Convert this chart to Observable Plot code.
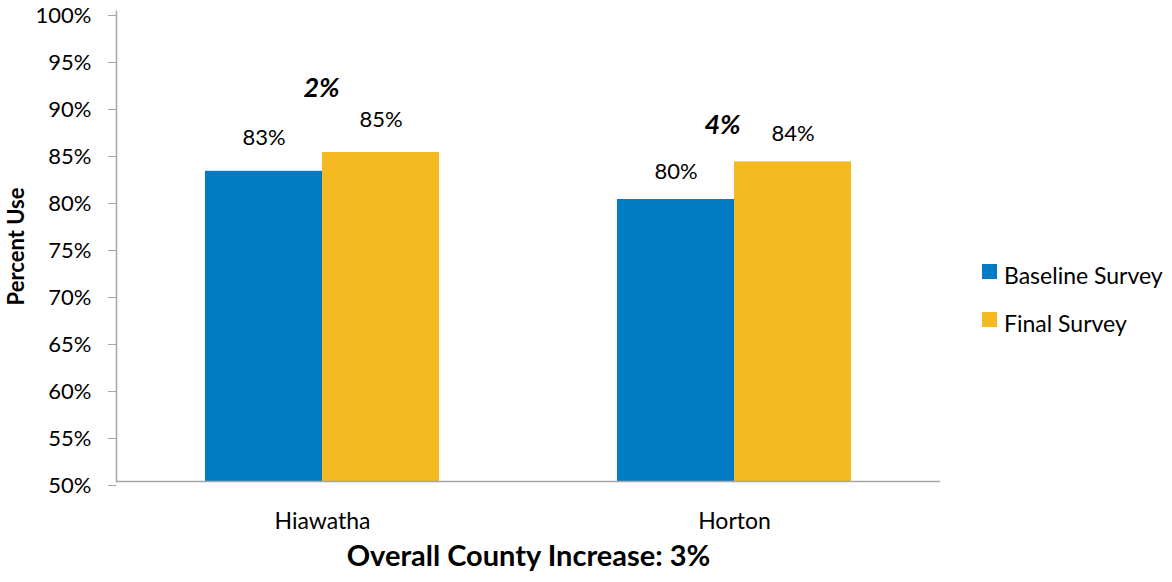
<!DOCTYPE html>
<html><head><meta charset="utf-8">
<script src="https://cdn.jsdelivr.net/npm/d3@7"></script>
<script src="https://cdn.jsdelivr.net/npm/@observablehq/plot@0.6"></script>
<style>
body{margin:0;background:#fff;font-family:Lato,sans-serif;}
#wrap{position:relative;width:1172px;height:582px;}
#chart g[aria-label="y-axis label"] text{font-weight:bold;font-size:22px;}
#chart g[aria-label="fx-axis label"] text{font-weight:bold;font-size:29px;}
#legend{position:absolute;left:982px;top:264px;font-size:23px;line-height:23px;color:#000;}
#legend .row{position:absolute;left:0;white-space:nowrap;height:23px;}
#legend .sw{position:absolute;left:0;top:0;width:15px;height:15px;}
#legend .lab{position:absolute;left:22px;top:0;}
</style></head>
<body><div id="wrap"><div id="chart"></div><div id="legend"></div></div>
<script>
const categories = ["Hiawatha", "Horton"];
const series = ["Baseline Survey", "Final Survey"];
const baseline = [83, 80];
const finalSurvey = [85, 84];
const increases = ["2%", "4%"];
const overallLabel = "Overall County Increase: 3%";
const yLabel = "Percent Use";
const yTicks = [50, 55, 60, 65, 70, 75, 80, 85, 90, 95, 100];
const colors = ["#007BC4", "#F5B921"];
const yMin = 50, yMax = 100;

const data = [];
categories.forEach((c, i) => {
  data.push({category: c, series: series[0], value: baseline[i]});
  data.push({category: c, series: series[1], value: finalSurvey[i]});
});
const incData = categories.map((c, i) => ({category: c, text: increases[i], top: Math.max(baseline[i], finalSurvey[i])}));

const gray = "#a6a6a6";
const plot = Plot.plot({
  width: 970,
  height: 582,
  marginLeft: 116,
  marginRight: 30,
  marginTop: 11,
  marginBottom: 101,
  style: {fontFamily: "Lato, sans-serif", fontSize: "22px", color: "#000", background: "#fff"},
  fx: {domain: categories, padding: 0},
  x: {domain: series, paddingInner: 0, paddingOuter: 0.746, axis: null},
  y: {domain: [yMin, yMax]},
  color: {domain: series, range: colors},
  marks: [
    Plot.barY(data, {fx: "category", x: "series", y1: yMin, y2: "value", fill: "series"}),
    Plot.ruleY([yMin], {stroke: gray, strokeWidth: 1.5}),
    Plot.frame({anchor: "left", facet: "super", stroke: gray, strokeWidth: 1.5}),
    Plot.axisY({ticks: yTicks, tickFormat: d => d + "%", tickSize: 8, tickPadding: 17, stroke: gray, fontSize: 22, dy: 4,
      label: yLabel, labelAnchor: "center", labelOffset: 108, labelArrow: "none"}),
    Plot.axisFx({anchor: "bottom", tickSize: 0, tickPadding: 31, fontSize: 23,
      label: overallLabel, labelAnchor: "center", labelOffset: 84, labelArrow: "none"}),
    Plot.text(data.filter(d => d.category === categories[0]), {fx: "category", x: "series", y: "value", text: d => d.value + "%", dy: -33, fontSize: 22, fill: "#000"}),
    Plot.text(data.filter(d => d.category === categories[1]), {fx: "category", x: "series", y: "value", text: d => d.value + "%", dy: -28, fontSize: 22, fill: "#000"}),
    Plot.text(incData.filter(d => d.category === categories[0]), {fx: "category", y: "top", text: "text", dx: -1, dy: -64, fontSize: 27, fontWeight: "bold", fontStyle: "italic", fill: "#000"}),
    Plot.text(incData.filter(d => d.category === categories[1]), {fx: "category", y: "top", text: "text", dx: -12, dy: -37, fontSize: 27, fontWeight: "bold", fontStyle: "italic", fill: "#000"})
  ]
});
document.getElementById("chart").appendChild(plot);

const legend = document.getElementById("legend");
series.forEach((s, i) => {
  const row = document.createElement("div");
  row.className = "row";
  row.style.top = (i * 48) + "px";
  const sw = document.createElement("div");
  sw.className = "sw";
  sw.style.background = colors[i];
  const t = document.createElement("span");
  t.className = "lab";
  t.textContent = s;
  row.appendChild(sw); row.appendChild(t);
  legend.appendChild(row);
});
</script></body></html>
